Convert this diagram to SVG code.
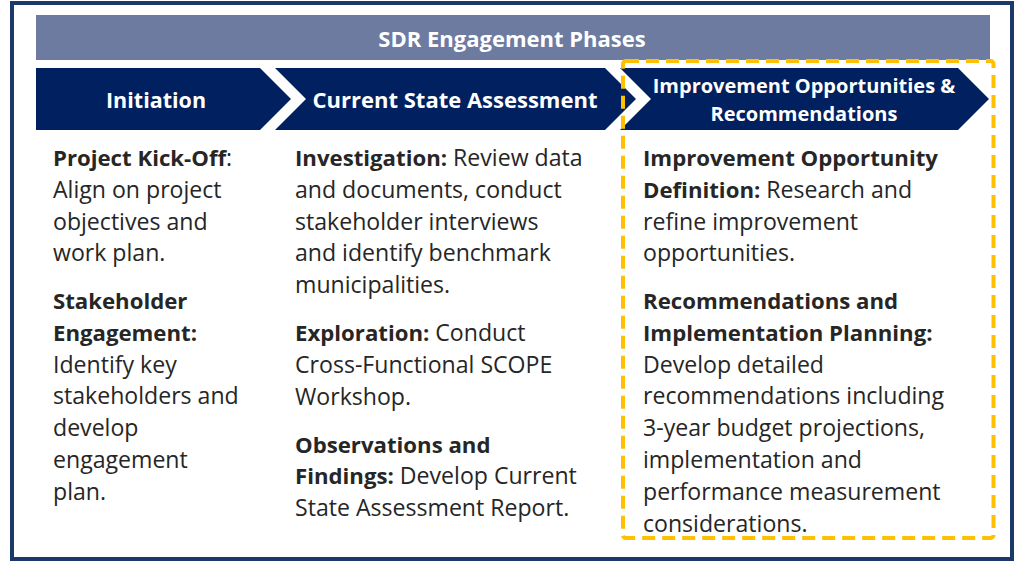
<svg xmlns="http://www.w3.org/2000/svg" width="1019" height="561" viewBox="0 0 1019 561">
  <style>
    .body { font-family: "Open Sans", "Liberation Sans", sans-serif; font-size: 23.1px; fill: #262626; }
    .b { font-weight: 700; font-size: 22.2px; }
    .head { font-family: "Open Sans", "Liberation Sans", sans-serif; font-weight: 700; fill: #ffffff; text-anchor: middle; }
    .chev { fill: #002060; }
  </style>
  <rect x="0" y="0" width="1019" height="561" fill="#ffffff"/>
  <g id="frame">
    <rect x="12" y="3" width="1000" height="556" fill="#ffffff" stroke="#1b3a6b" stroke-width="4"/>
  </g>
  <g id="header">
    <rect x="36" y="15" width="954" height="45" fill="#6e7ba1"/>
    <text class="head" x="512" y="46.5" font-size="22">SDR Engagement Phases</text>
  </g>
  <g id="phase-initiation">
    <polygon class="chev" points="36,68 260,68 291,99 260,130 36,130"/>
    <text class="head" x="156" y="107.5" font-size="21.5">Initiation</text>
  </g>
  <g id="phase-current">
    <polygon class="chev" points="275,68 605,68 636,99 605,130 275,130 306,99"/>
    <text class="head" x="455" y="107.5" font-size="22">Current State Assessment</text>
  </g>
  <g id="phase-improvement">
    <polygon class="chev" points="620,68 958,68 989,99 958,130 620,130 651,99"/>
    <text class="head" x="804" y="92.5" font-size="20">Improvement Opportunities &amp;</text>
    <text class="head" x="804" y="121" font-size="20">Recommendations</text>
  </g>
  <g id="col-initiation">
    <text class="body" x="53" y="166"><tspan class="b">Project Kick-Off</tspan>:</text>
    <text class="body" x="53" y="197.8">Align on project</text>
    <text class="body" x="53" y="229.6">objectives and</text>
    <text class="body" x="53" y="261.4">work plan.</text>
    <text class="body" x="53" y="309"><tspan class="b">Stakeholder</tspan></text>
    <text class="body" x="53" y="340.8"><tspan class="b">Engagement:</tspan></text>
    <text class="body" x="53" y="372.6">Identify key</text>
    <text class="body" x="53" y="404.4">stakeholders and</text>
    <text class="body" x="53" y="436.2">develop</text>
    <text class="body" x="53" y="468">engagement</text>
    <text class="body" x="53" y="499.8">plan.</text>
  </g>
  <g id="col-current">
    <text class="body" x="295" y="166"><tspan class="b">Investigation:</tspan> Review data</text>
    <text class="body" x="295" y="197.8">and documents, conduct</text>
    <text class="body" x="295" y="229.6">stakeholder interviews</text>
    <text class="body" x="295" y="261.4">and identify benchmark</text>
    <text class="body" x="295" y="293.2">municipalities.</text>
    <text class="body" x="295" y="341"><tspan class="b">Exploration:</tspan> Conduct</text>
    <text class="body" x="295" y="372.8">Cross-Functional SCOPE</text>
    <text class="body" x="295" y="404.6">Workshop.</text>
    <text class="body" x="295" y="452.6"><tspan class="b">Observations and</tspan></text>
    <text class="body" x="295" y="484.4"><tspan class="b">Findings:</tspan> Develop Current</text>
    <text class="body" x="295" y="516.2">State Assessment Report.</text>
  </g>
  <g id="col-improvement">
    <text class="body" x="643" y="166"><tspan class="b">Improvement Opportunity</tspan></text>
    <text class="body" x="643" y="197.8"><tspan class="b">Definition:</tspan> Research and</text>
    <text class="body" x="643" y="229.6">refine improvement</text>
    <text class="body" x="643" y="261.4">opportunities.</text>
    <text class="body" x="643" y="309"><tspan class="b">Recommendations and</tspan></text>
    <text class="body" x="643" y="340.8"><tspan class="b">Implementation Planning:</tspan></text>
    <text class="body" x="643" y="372.6">Develop detailed</text>
    <text class="body" x="643" y="404.4">recommendations including</text>
    <text class="body" x="643" y="436.2">3-year budget projections,</text>
    <text class="body" x="643" y="468">implementation and</text>
    <text class="body" x="643" y="499.8">performance measurement</text>
    <text class="body" x="643" y="531.6">considerations.</text>
  </g>
  <g id="highlight">
    <rect x="623" y="61" width="370.5" height="477" rx="3" fill="none" stroke="#ffc000" stroke-width="4" stroke-dasharray="13 7"/>
  </g>
</svg>
